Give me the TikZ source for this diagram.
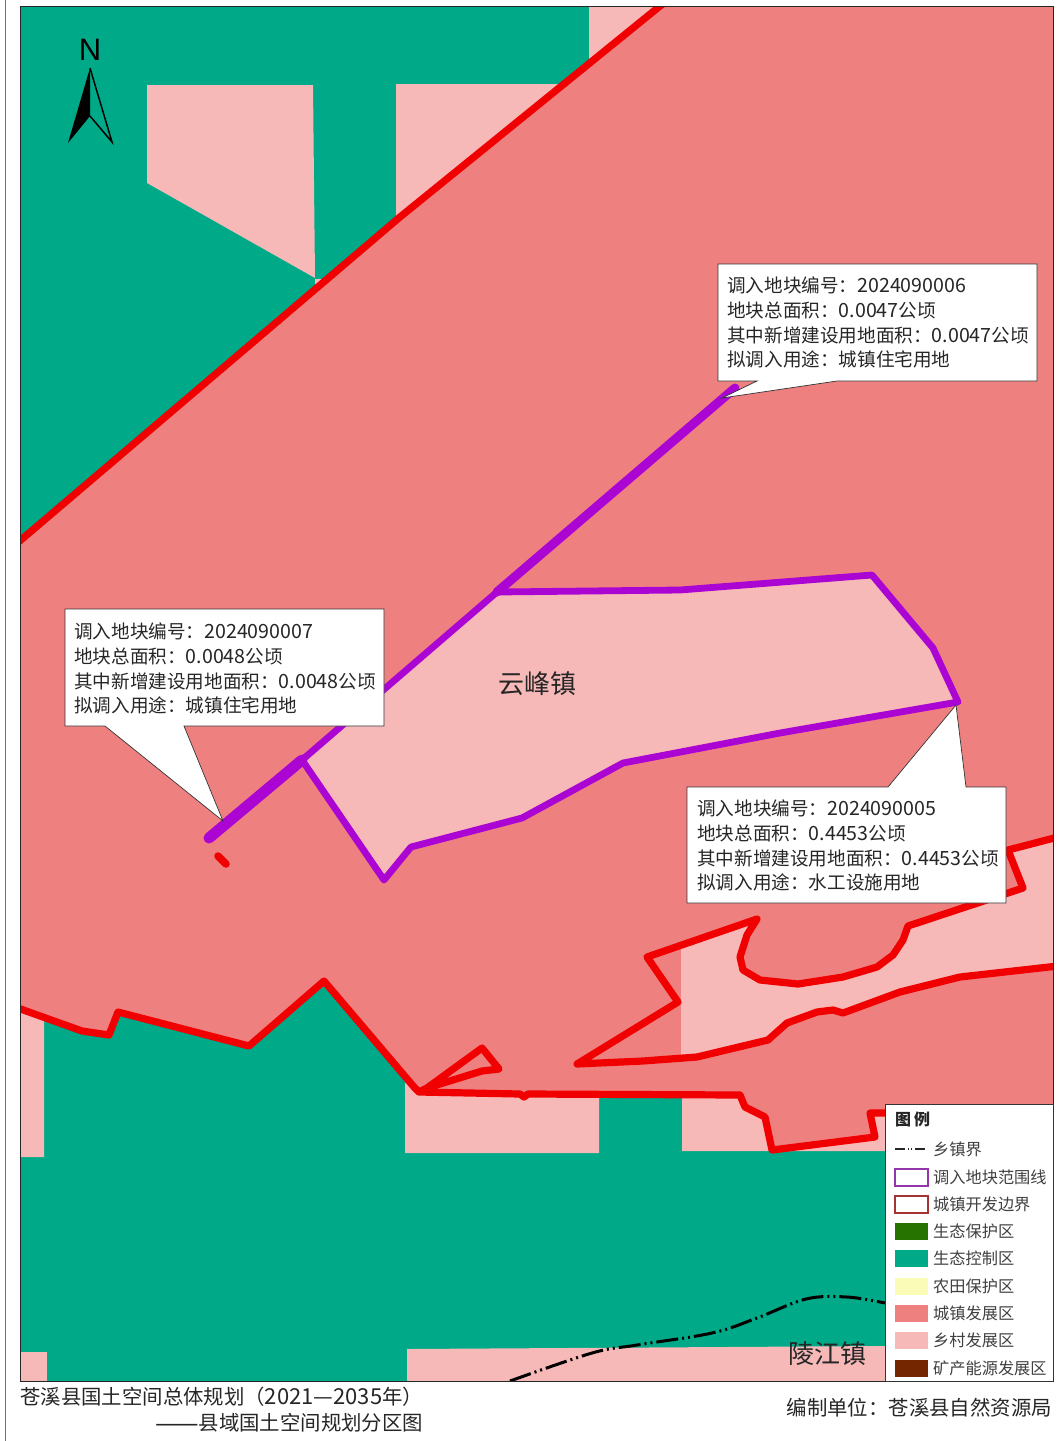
\documentclass[tikz,border=0pt]{standalone}
\usepackage{fontspec}
\setmainfont{Noto Sans CJK SC}
\newfontfamily\latinfont{Liberation Sans}
\definecolor{urban}{HTML}{EF8080}
\definecolor{rural}{HTML}{F7B8B8}
\definecolor{ctrl}{HTML}{00A987}
\definecolor{prot}{HTML}{267300}
\definecolor{farm}{HTML}{FBFBB8}
\definecolor{mine}{HTML}{732600}
\definecolor{redl}{HTML}{F00000}
\definecolor{purp}{HTML}{AA05D2}
\definecolor{txt}{HTML}{262626}
\newcommand{\dg}[1]{{\fontsize{19.6}{24.6}\selectfont #1}}
\newcommand{\dgt}[1]{{\fontsize{22}{22}\selectfont #1}}
\newcommand{\dsh}[1]{{\fontsize{26}{20}\selectfont\raisebox{-1.5pt}{#1}}}
\tikzset{
  redb/.style={draw=redl,line width=7.2pt,line join=round,line cap=round},
  purpb/.style={draw=purp,line width=6.8pt,line join=round,line cap=round},
  callout/.style={draw=black!80,fill=white,line width=0.7pt},
  calltext/.style={font=\fontsize{18.6}{24.6}\selectfont,text=txt,align=left,anchor=north west,inner sep=0pt},
  legtext/.style={font=\fontsize{16.2}{16.2}\selectfont,text=black!75,anchor=west,inner sep=0pt},
  swatch/.style={minimum width=33pt,minimum height=17pt,inner sep=0pt,line width=2pt,anchor=center},
  bigname/.style={font=\fontsize{26}{26}\selectfont,text=txt,inner sep=0pt},
  captext/.style={font=\fontsize{20.4}{20.4}\selectfont,text=txt,inner sep=0pt},
}
\begin{document}
\begin{tikzpicture}[x=1pt,y=-1pt]
\useasboundingbox (0,0) rectangle (1064,1441);
\fill[white] (0,0) rectangle (1064,1441);
\draw[black!55,line width=0.8pt] (5,0) -- (5,1441);
\begin{scope}
\clip (20,6) rectangle (1053,1381);
\fill[urban] (20,6) rectangle (1053,1381);
% north-west
\fill[ctrl] (20,6) -- (660,6) -- (400,217) -- (20,541) -- cycle;
\fill[rural] (589,6) -- (660,6) -- (589,64) -- cycle;
\fill[rural] (396,84) -- (558,84) -- (558,90) -- (396,221) -- cycle;
\fill[rural] (147,85) -- (313,85) -- (315,278) -- (147,183) -- cycle;
\fill[rural] (315,279) -- (326,279) -- (315,290) -- cycle;
% south
\fill[ctrl] (20,1157) -- (44,1157) -- (44,1018) -- (82,1029) -- (109,1035) -- (118,1010) -- (249,1046) -- (324,980) -- (405,1082) -- (405,1153) -- (599,1153) -- (599,1095) -- (682,1095) -- (682,1151) -- (885,1151) -- (885,1381) -- (20,1381) -- cycle;
\fill[rural] (20,1008) -- (44,1018) -- (44,1157) -- (20,1157) -- cycle;
\fill[rural] (20,1352) -- (47,1352) -- (47,1381) -- (20,1381) -- cycle;
\fill[rural] (405,1082) -- (419,1093) -- (599,1095) -- (599,1153) -- (405,1153) -- cycle;
\fill[rural] (407,1349) -- (885,1346) -- (885,1381) -- (407,1381) -- cycle;
\fill[rural] (682,1095) -- (740,1095) -- (745,1107) -- (765,1117) -- (772,1150) -- (875,1137) -- (870,1113) -- (885,1113) -- (885,1151) -- (682,1151) -- cycle;
% eastern rural band
\fill[rural] (681,943) -- (757,919) -- (747,935) -- (740,957) -- (743,970) -- (760,980) -- (798,984) -- (843,977) -- (877,967) -- (893,955) -- (903,940) -- (908,926) -- (1023,888) -- (1008,850) -- (1053,838) -- (1053,967) -- (960,977) -- (900,992) -- (843,1013) -- (833,1010) -- (817,1012) -- (787,1023) -- (768,1040) -- (697,1057) -- (681,1058) -- cycle;
% plot interior
\fill[rural] (497,592) -- (680,590) -- (872,575) -- (933,648) -- (958,702) -- (780,733) -- (623,763) -- (522,818) -- (411,847) -- (384,880) -- (302,760) -- cycle;
% boundaries
\draw[redb] (15,545) -- (400,217) -- (665,2);
\draw[redb] (15,1007) -- (82,1031) -- (109,1035) -- (118,1012) -- (249,1046) -- (324,981) -- (414,1087) -- (419,1092) -- (427,1088) -- (482,1048) -- (499,1069) -- (482,1071) -- (427,1088) -- (419,1092) -- (520,1094) -- (524,1097) -- (528,1094) -- (740,1095) -- (745,1107) -- (765,1117) -- (772,1150) -- (875,1137) -- (870,1113) -- (885,1113);
\draw[redb] (1058,837) -- (1008,850) -- (1023,888) -- (908,926) -- (903,940) -- (893,955) -- (877,967) -- (843,977) -- (798,984) -- (760,980) -- (743,970) -- (740,957) -- (747,935) -- (757,919) -- (647,957) -- (678,1002) -- (577,1064) -- (643,1061) -- (697,1057) -- (768,1040) -- (787,1023) -- (817,1012) -- (833,1010) -- (843,1013) -- (900,992) -- (960,977) -- (1058,966);
\draw[redb,line width=7.5pt] (218,856) -- (226,864);
% plot outlines
\draw[purpb] (497,592) -- (680,590) -- (872,575) -- (933,648) -- (958,702) -- (780,733) -- (623,763) -- (522,818) -- (411,847) -- (384,880) -- (302,760);
\draw[purpb] (497,592) -- (302,760);
\draw[purpb,line width=11pt] (209,838) -- (302,760);
\draw[purpb,line width=9pt] (497,592) -- (735,388);
% township boundary
\draw[black,line width=3pt,dash pattern=on 22pt off 4pt on 2pt off 4pt on 2pt off 4pt] plot[smooth,tension=0.6] coordinates {(510,1381) (592,1353) (637,1345) (712,1333) (757,1318) (806,1299) (847,1297) (885,1303)};
\end{scope}
% frame
\draw[black!85,line width=1pt] (20,6) rectangle (1053,1381);
% north arrow
\node[font=\latinfont\fontsize{31}{31}\selectfont,text=black,inner sep=0pt] (north) at (90,50) {N};
\fill[black] (90,68) -- (68,143) -- (90,116) -- cycle;
\draw[black,line width=1.5pt,line join=miter] (90,68) -- (112,142) -- (90,116);
% callouts
\draw[callout] (718,264) -- (1037,264) -- (1037,381) -- (837,381) -- (722,398) -- (757,381) -- (718,381) -- cycle;
\node[calltext] (ca) at (727,277) {调入地块编号：\dg{2024090006}\\地块总面积：\dg{0.0047}公顷\\其中新增建设用地面积：\dg{0.0047}公顷\\拟调入用途：城镇住宅用地};
\draw[callout] (65,609) -- (384,609) -- (384,726) -- (184,726) -- (223,821) -- (105,726) -- (65,726) -- cycle;
\node[calltext] (cb) at (74,623) {调入地块编号：\dg{2024090007}\\地块总面积：\dg{0.0048}公顷\\其中新增建设用地面积：\dg{0.0048}公顷\\拟调入用途：城镇住宅用地};
\draw[callout] (687,787) -- (888,787) -- (956,705) -- (966,787) -- (1006,787) -- (1006,903) -- (687,903) -- cycle;
\node[calltext] (cc) at (697,800) {调入地块编号：\dg{2024090005}\\地块总面积：\dg{0.4453}公顷\\其中新增建设用地面积：\dg{0.4453}公顷\\拟调入用途：水工设施用地};
% place labels
\node[bigname] (yf) at (537,684) {云峰镇};
\node[bigname] (lj) at (827,1354) {陵江镇};
% legend
\draw[draw=black!80,fill=white,line width=1pt] (885,1104) rectangle (1053,1381);
\node[font=\fontsize{16}{16}\selectfont\bfseries,text=black!85,anchor=west,inner sep=0pt] (lt) at (895,1119) {图\hspace{3pt}例};
\draw[black!85,line width=1.8pt,dash pattern=on 10pt off 3pt on 1pt off 2pt on 1pt off 3pt] (895,1149) -- (927,1149);
\node[legtext] (l1) at (933,1149) {乡镇界};
\node[swatch,draw=purp!70!black!80,fill=white] (s2) at (911,1177) {};
\node[legtext] (l2) at (933,1177) {调入地块范围线};
\node[swatch,draw=redl!60!black!80,fill=white] (s3) at (911,1204) {};
\node[legtext] (l3) at (933,1204) {城镇开发边界};
\node[swatch,fill=prot] (s4) at (911,1231) {};
\node[legtext] (l4) at (933,1231) {生态保护区};
\node[swatch,fill=ctrl] (s5) at (911,1258) {};
\node[legtext] (l5) at (933,1258) {生态控制区};
\node[swatch,fill=farm] (s6) at (911,1286) {};
\node[legtext] (l6) at (933,1286) {农田保护区};
\node[swatch,fill=urban] (s7) at (911,1313) {};
\node[legtext] (l7) at (933,1313) {城镇发展区};
\node[swatch,fill=rural] (s8) at (911,1340) {};
\node[legtext] (l8) at (933,1340) {乡村发展区};
\node[swatch,fill=mine] (s9) at (911,1368) {};
\node[legtext] (l9) at (933,1368) {矿产能源发展区};
% captions
\node[captext,anchor=west] (t1) at (20,1397) {苍溪县国土空间总体规划（\dgt{2021—2035}年）};
\node[captext,anchor=west] (t2) at (155,1423) {\dsh{——}县域国土空间规划分区图};
\node[captext,anchor=east,font=\fontsize{20.4}{20.4}\selectfont] (t3) at (1052,1408) {编制单位：苍溪县自然资源局};
\end{tikzpicture}
\end{document}
